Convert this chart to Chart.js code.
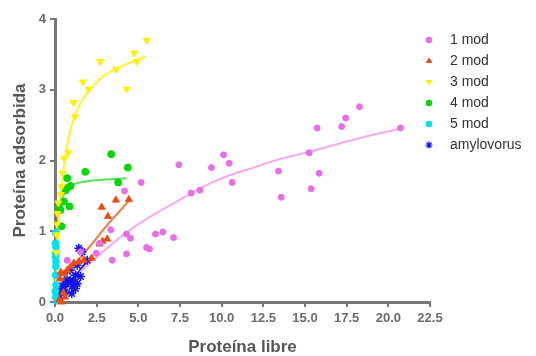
<!DOCTYPE html>
<html>
<head>
<meta charset="utf-8">
<script src="https://cdn.jsdelivr.net/npm/chart.js@4"></script>
<style>
  html, body { margin: 0; padding: 0; background: #fff; }
  #wrap { width: 536px; height: 356px; }
</style>
</head>
<body>
<div id="wrap"><canvas id="chart" width="536" height="356"></canvas></div>
<script>
// values
const mod1X = [18.27, 17.44, 17.2, 15.73, 20.73, 15.25, 13.41, 15.85, 15.37, 13.57, 10.63, 10.11, 10.45, 9.39, 7.43, 8.69, 8.17, 5.17, 4.17, 7.11, 6.47, 6.03, 5.49, 5.67, 4.53, 4.29, 3.35, 4.29, 3.43, 2.67, 2.47, 1.53, 0.73];
const mod1Y = [2.76, 2.6, 2.48, 2.46, 2.46, 2.11, 1.85, 1.82, 1.6, 1.48, 1.69, 2.08, 1.96, 1.9, 1.94, 1.58, 1.54, 1.69, 1.57, 0.91, 0.99, 0.96, 0.77, 0.75, 0.9, 0.96, 1.02, 0.68, 0.59, 0.83, 0.69, 0.71, 0.59];

const mod2X = [4.43, 3.65, 2.8, 3.17, 3.13, 2.85, 2.67, 2.2, 1.43, 1.13, 0.93, 0.73, 0.55, 0.3, 1.73, 0.35, 0.6, 0.25, 0.4, 0.5];
const mod2Y = [1.45, 1.44, 1.34, 1.21, 0.89, 0.86, 0.82, 0.62, 0.57, 0.55, 0.5, 0.45, 0.4, 0.33, 0.59, 0.42, 0.07, 0.03, 0.0, 0.13];

const mod3X = [5.5, 4.75, 4.9, 2.7, 3.67, 4.3, 1.67, 2.03, 1.11, 1.19, 0.79, 0.55, 0.45, 0.39, 0.35, 0.2, 0.15, 0.12, 0.1, 0.08];
const mod3Y = [3.7, 3.52, 3.4, 3.4, 3.29, 3.01, 3.11, 3.01, 2.82, 2.62, 2.11, 2.03, 1.82, 1.63, 1.52, 1.4, 1.25, 1.1, 0.95, 0.7];

const mod4X = [3.37, 4.37, 1.82, 0.73, 3.79, 0.73, 0.63, 0.93, 0.53, 0.23, 0.87, 0.33, 0.39];
const mod4Y = [2.09, 1.9, 1.84, 1.75, 1.69, 1.61, 1.58, 1.64, 1.42, 1.35, 1.35, 1.3, 1.07];

const mod5X = [0.05, 0.03, 0.06, 0.04, 0.02, 0.06, 0.05, 0.03, 0.06, 0.02, 0.05, 0.1];
const mod5Y = [0.98, 0.83, 0.78, 0.69, 0.64, 0.57, 0.5, 0.38, 0.24, 0.15, 0.07, 0.02];

const amyX = [1.43, 1.63, 1.93, 1.33, 1.23, 0.93, 0.63, 0.45, 0.33, 1.33, 1.03, 1.23, 0.13, 0.73, 1.53, 1.13, 0.6, 0.25, 0.9, 1.0];
const amyY = [0.76, 0.71, 0.59, 0.52, 0.38, 0.31, 0.26, 0.22, 0.17, 0.26, 0.22, 0.19, 0.07, 0.31, 0.36, 0.28, 0.14, 0.1, 0.45, 0.12];

// fitted curves
const fit1X = [1.5, 2.2, 4.5, 7.0, 9.7, 12.3, 13.5, 15.2, 18.0, 20.7];
const fit1Y = [0.42, 0.57, 1.02, 1.38, 1.72, 1.93, 2.02, 2.12, 2.3, 2.45];
const fit2X = [0.2, 1.0, 2.0, 3.0, 4.43];
const fit2Y = [0.25, 0.48, 0.76, 1.05, 1.43];
const fit3X = [0.02, 0.1, 0.2, 0.4, 0.8, 1.5, 2.7, 3.7, 5.4];
const fit3Y = [0.1, 0.6, 1.0, 1.6, 2.3, 2.8, 3.15, 3.3, 3.47];
const fit4X = [0.01, 0.1, 0.3, 0.6, 1.0, 2.0, 3.0, 4.3];
const fit4Y = [0.15, 0.9, 1.35, 1.55, 1.65, 1.71, 1.73, 1.75];
const fitAmyX = [0.05, 2.0];
const fitAmyY = [0.02, 0.6];

const xTicks = [0, 2.5, 5, 7.5, 10, 12.5, 15, 17.5, 20, 22.5];
const yTicks = [0, 1, 2, 3, 4];

const legendNames = ["1 mod", "2 mod", "3 mod", "4 mod", "5 mod", "amylovorus"];

function pts(xs, ys) {
  return xs.map((x, i) => ({ x: x, y: ys[i] }));
}

function points(label, xs, ys, color, style, extra) {
  return Object.assign({
    label: label,
    data: pts(xs, ys),
    backgroundColor: color,
    borderColor: color,
    pointStyle: style,
    pointRadius: 3,
    pointBorderWidth: 1,
    showLine: false,
    clip: false,
    order: 1
  }, extra || {});
}

function curve(xs, ys, color) {
  return {
    label: "",
    data: pts(xs, ys),
    borderColor: color,
    borderWidth: 2,
    pointRadius: 0,
    showLine: true,
    tension: 0.4,
    fill: false,
    clip: false,
    order: 2
  };
}

const datasets = [
  points(legendNames[0], mod1X, mod1Y, "rgb(232,110,232)", "circle"),
  points(legendNames[1], mod2X, mod2Y, "rgb(240,75,20)", "triangle", { pointRadius: 4 }),
  points(legendNames[2], mod3X, mod3Y, "rgb(255,240,0)", "triangle", { pointRadius: 4, rotation: 180 }),
  points(legendNames[3], mod4X, mod4Y, "rgb(0,215,0)", "circle", { pointRadius: 3.5 }),
  points(legendNames[4], mod5X, mod5Y, "rgb(0,225,235)", "circle", { pointRadius: 3.4 }),
  points(legendNames[5], amyX, amyY, "rgb(20,20,230)", "star", { pointRadius: 4.5, pointBorderWidth: 1.6 }),
  curve(fit1X, fit1Y, "rgb(245,170,240)"),
  curve(fit2X, fit2Y, "rgb(245,120,60)"),
  curve(fit3X, fit3Y, "rgb(255,245,40)"),
  curve(fit4X, fit4Y, "rgb(90,225,90)"),
  curve(fitAmyX, fitAmyY, "rgb(30,30,200)")
];

const fontFamily = "'Liberation Sans', Arial, sans-serif";

const legendPlugin = {
  id: "sideLegend",
  afterDraw(chart) {
    const ctx = chart.ctx;
    ctx.save();
    ctx.font = "14px " + fontFamily;
    ctx.textBaseline = "middle";
    ctx.textAlign = "left";
    for (let i = 0; i < legendNames.length; i++) {
      const ds = chart.data.datasets[i];
      const y = 40 + i * 21;
      const opts = {
        pointStyle: ds.pointStyle,
        radius: ds.pointStyle === "star" ? 3.5 : 2.6,
        rotation: ds.rotation || 0,
        borderWidth: 1.2
      };
      ctx.fillStyle = ds.backgroundColor;
      ctx.strokeStyle = ds.borderColor;
      ctx.lineWidth = 1.2;
      Chart.helpers.drawPoint(ctx, opts, 429, y);
      ctx.fillStyle = "#333";
      ctx.fillText(legendNames[i], 450, y);
    }
    ctx.restore();
  }
};

new Chart(document.getElementById("chart"), {
  type: "scatter",
  data: { datasets },
  options: {
    responsive: false,
    animation: false,
    layout: { padding: { left: 0, right: 106, top: 19, bottom: 0 } },
    plugins: {
      legend: { display: false },
      tooltip: { enabled: false }
    },
    scales: {
      x: {
        type: "linear",
        min: 0,
        max: 22.5,
        afterBuildTicks: s => { s.ticks = xTicks.map(v => ({ value: v })); },
        afterFit: s => { s.height = 54; },
        ticks: {
          callback: v => Number(v).toFixed(1),
          color: "#6a6a6a",
          font: { family: fontFamily, size: 13, weight: "bold" },
          padding: 4,
          maxRotation: 0
        },
        grid: { drawOnChartArea: false, drawTicks: true, tickLength: 5, color: "#777", lineWidth: 2 },
        border: { color: "#777", width: 3 },
        title: {
          display: true,
          text: "Proteína libre",
          color: "#555",
          font: { family: fontFamily, size: 17, weight: "bold", lineHeight: 1 },
          padding: { top: 0, bottom: 0 }
        }
      },
      y: {
        type: "linear",
        min: 0,
        max: 4,
        afterBuildTicks: s => { s.ticks = yTicks.map(v => ({ value: v })); },
        afterFit: s => { s.width = 55; },
        ticks: {
          color: "#6a6a6a",
          font: { family: fontFamily, size: 13, weight: "bold" },
          padding: 4
        },
        grid: { drawOnChartArea: false, drawTicks: true, tickLength: 5, color: "#777", lineWidth: 2 },
        border: { color: "#777", width: 3 },
        title: {
          display: true,
          text: "Proteína adsorbida",
          color: "#555",
          font: { family: fontFamily, size: 17, weight: "bold", lineHeight: 1 },
          padding: { top: 12, bottom: 0 }
        }
      }
    }
  },
  plugins: [legendPlugin]
});
</script>
</body>
</html>
